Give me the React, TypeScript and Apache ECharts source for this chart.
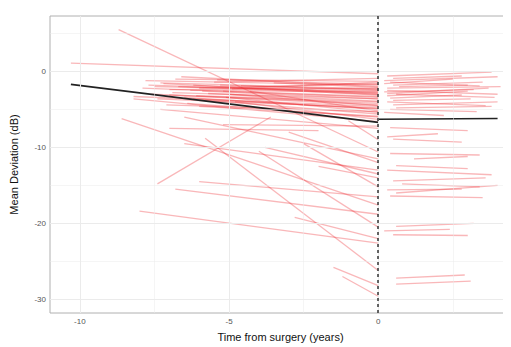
import React, { useEffect, useRef } from "react";
import * as echarts from "echarts";

// Pre-surgery patient trajectories: [x1, y1, x2, y2] (years, dB)
const preLines: number[][] = [
  [-10.3, 1.1, 0, -0.3],
  [-8.7, 5.5, 0, -10.6],
  [-7.8, -1.2, 0, -1.8],
  [-7.5, -2.0, 0, -2.6],
  [-7.2, -1.6, 0, -3.1],
  [-7.6, -3.0, 0, -4.2],
  [-7.0, -2.4, 0, -2.2],
  [-6.8, -1.0, 0, -1.3],
  [-6.5, -3.4, 0, -5.0],
  [-6.9, -2.8, 0, -3.6],
  [-6.2, -1.8, 0, -2.9],
  [-6.0, -2.2, 0, -1.6],
  [-5.8, -3.8, 0, -5.6],
  [-6.4, -4.2, 0, -6.0],
  [-5.5, -1.4, 0, -0.9],
  [-5.2, -2.6, 0, -3.3],
  [-7.4, -3.6, 0, -4.8],
  [-5.0, -3.0, 0, -4.5],
  [-4.6, -1.9, 0, -2.4],
  [-6.6, -0.7, 0, -2.0],
  [-7.1, -4.4, 0, -5.3],
  [-5.7, -2.9, 0, -3.9],
  [-4.8, -4.0, 0, -6.3],
  [-6.3, -2.5, 0, -2.7],
  [-7.9, -2.2, 0, -3.4],
  [-5.4, -1.1, 0, -1.7],
  [-6.1, -3.2, 0, -4.0],
  [-4.3, -2.6, 0, -5.2],
  [-3.5, -1.5, 0, -2.1],
  [-8.2, -3.3, 0, -4.6],
  [-7.3, -1.5, 0, -2.3],
  [-6.7, -2.0, 0, -3.0],
  [-5.9, -2.6, 0, -3.6],
  [-7.0, -3.1, 0, -4.4],
  [-6.2, -3.6, 0, -4.9],
  [-5.3, -1.8, 0, -2.5],
  [-4.9, -2.3, 0, -1.4],
  [-7.7, -1.8, 0, -2.8],
  [-6.0, -4.6, 0, -5.9],
  [-5.1, -3.4, 0, -5.4],
  [-8.2, -3.6, 0, -6.6],
  [-7.3, -5.0, 0, -7.5],
  [-8.6, -6.2, 0, -17.6],
  [-5.2, -7.0, 0, -7.2],
  [-7.0, -7.5, -2.0, -7.8],
  [-6.5, -6.0, 0, -11.5],
  [-5.8, -8.8, 0, -26.2],
  [-7.4, -14.8, -3.6, -6.0],
  [-6.0, -14.5, 0, -16.5],
  [-6.8, -15.5, 0, -18.8],
  [-8.0, -18.4, 0, -22.6],
  [-2.8, -19.2, 0, -22.0],
  [-3.8, -10.0, 0, -13.5],
  [-2.5, -9.5, 0, -15.2],
  [-4.0, -10.5, 0, -20.5],
  [-3.0, -8.0, 0, -12.0],
  [-1.5, -25.8, 0, -28.2],
  [-1.2, -27.0, 0, -29.6],
  [-2.0, -12.5, 0, -14.0],
  [-6.5, -9.5, 0, -13.0],
  [-1.0, -6.5, 0, -9.0],
];

// Post-surgery patient trajectories
const postLines: number[][] = [
  [0.3, -0.6, 3.8, -0.1],
  [0.2, -1.2, 4.0, -0.7],
  [0.5, -1.8, 3.5, -1.4],
  [0.3, -2.2, 4.1, -2.0],
  [0.2, -2.7, 3.2, -2.4],
  [0.6, -3.0, 3.9, -3.4],
  [0.4, -3.5, 2.8, -3.1],
  [0.3, -4.0, 3.6, -4.5],
  [0.5, -4.4, 4.0, -4.0],
  [0.2, -1.6, 2.5, -1.0],
  [0.4, -5.0, 3.3, -5.3],
  [0.3, -3.2, 3.0, -2.6],
  [0.7, -2.0, 3.0, -1.8],
  [0.2, -5.4, 2.2, -5.8],
  [0.5, -0.9, 2.8, -0.6],
  [0.3, -2.5, 4.0, -3.0],
  [0.6, -4.8, 3.8, -4.6],
  [0.4, -1.4, 3.4, -1.9],
  [0.3, -2.9, 3.7, -2.2],
  [0.5, -3.8, 3.1, -3.6],
  [0.4, -7.4, 3.0, -7.8],
  [0.3, -8.6, 2.0, -8.2],
  [0.5, -8.9, 2.8, -9.3],
  [0.4, -10.8, 3.4, -11.0],
  [1.2, -11.5, 3.0, -11.2],
  [0.6, -12.4, 3.0, -12.8],
  [0.3, -13.0, 3.8, -13.6],
  [0.5, -14.4, 3.6, -14.0],
  [0.8, -14.8, 3.4, -15.2],
  [0.3, -15.6, 2.8, -15.5],
  [0.6, -16.0, 4.0, -15.0],
  [0.4, -16.4, 3.5, -16.6],
  [0.6, -20.4, 3.2, -20.0],
  [0.2, -21.0, 2.4, -20.8],
  [0.5, -21.5, 3.0, -21.6],
  [0.6, -27.2, 2.9, -26.8],
  [0.6, -28.0, 3.1, -27.6],
];

// Population mean trend
const meanPre: number[][] = [
  [-10.3, -1.7],
  [0, -6.7],
];
const meanPost: number[][] = [
  [0, -6.3],
  [4.0, -6.2],
];

const xTicks = [-10, -5, 0];
const xMinor = [-7.5, -2.5, 2.5];
const yTicks = [0, -10, -20, -30];
const yMinor = [5, -5, -15, -25];

export default function App() {
  const ref = useRef<HTMLDivElement>(null);
  useEffect(() => {
    if (!ref.current) return;
    const chart = echarts.init(ref.current, undefined, { renderer: "svg" });
    const toSeg = (l: number[]) => ({ coords: [[l[0], l[1]], [l[2], l[3]]] });
    const gridStyle = (w: number) => ({ color: "#ebebeb", width: w, type: "solid" as const });
    chart.setOption({
      animation: false,
      textStyle: { fontFamily: "Liberation Sans, Arial, sans-serif" },
      grid: {
        left: 48,
        right: 0,
        top: 16,
        bottom: 30,
        show: true,
        borderColor: "#b0b0b0",
        borderWidth: 1,
        backgroundColor: "#fff",
      },
      xAxis: {
        type: "value",
        min: -11,
        max: 4.45,
        name: "Time from surgery (years)",
        nameLocation: "middle",
        nameGap: 18,
        nameTextStyle: { fontSize: 11, color: "#111" },
        axisLine: { show: false },
        splitLine: { show: false },
        axisTick: { show: true, customValues: xTicks, length: 3, lineStyle: { color: "#555" } },
        axisLabel: { customValues: xTicks, fontSize: 8, color: "#555", margin: 4 },
      },
      yAxis: {
        type: "value",
        min: -31.8,
        max: 7.3,
        name: "Mean Deviation (dB)",
        nameLocation: "middle",
        nameGap: 31,
        nameTextStyle: { fontSize: 11, color: "#111" },
        axisLine: { show: false },
        splitLine: { show: false },
        axisTick: { show: true, customValues: yTicks, length: 3, lineStyle: { color: "#555" } },
        axisLabel: { customValues: yTicks, fontSize: 8, color: "#555", margin: 4 },
      },
      series: [
        {
          type: "line",
          data: [],
          silent: true,
          markLine: {
            silent: true,
            symbol: "none",
            label: { show: false },
            data: [
              ...xMinor.map((v) => ({ xAxis: v, lineStyle: gridStyle(0.5) })),
              ...yMinor.map((v) => ({ yAxis: v, lineStyle: gridStyle(0.5) })),
              ...xTicks.map((v) => ({ xAxis: v, lineStyle: gridStyle(1) })),
              ...yTicks.map((v) => ({ yAxis: v, lineStyle: gridStyle(1) })),
            ],
          },
        },
        {
          type: "lines",
          coordinateSystem: "cartesian2d",
          silent: true,
          data: preLines.map(toSeg),
          lineStyle: { color: "rgb(236,36,44)", opacity: 0.33, width: 1.3 },
        },
        {
          type: "lines",
          coordinateSystem: "cartesian2d",
          silent: true,
          data: postLines.map(toSeg),
          lineStyle: { color: "rgb(236,36,44)", opacity: 0.33, width: 1.3 },
        },
        {
          type: "line",
          data: meanPre,
          symbol: "none",
          silent: true,
          lineStyle: { color: "#222", width: 1.6 },
        },
        {
          type: "line",
          data: meanPost,
          symbol: "none",
          silent: true,
          lineStyle: { color: "#222", width: 1.6 },
          markLine: {
            silent: true,
            symbol: "none",
            label: { show: false },
            data: [{ xAxis: 0 }],
            lineStyle: { color: "#333", width: 1.5, type: [3, 3] },
          },
        },
      ],
    });
    return () => chart.dispose();
  }, []);
  return <div ref={ref} style={{ width: 511, height: 347, marginLeft: -8, marginTop: -8 }} />;
}
